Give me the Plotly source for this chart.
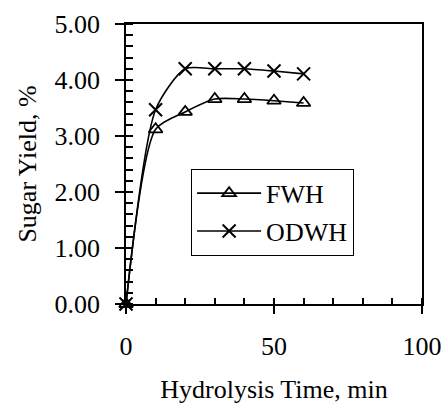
import plotly.graph_objects as go

time_min = [0, 10, 20, 30, 40, 50, 60]
fwh = [0.0, 3.12, 3.43, 3.66, 3.66, 3.63, 3.59]
odwh = [0.0, 3.47, 4.20, 4.20, 4.20, 4.16, 4.11]

FONT = "Liberation Serif"

fig = go.Figure()
fig.add_trace(go.Scatter(
    x=time_min, y=fwh, name="FWH", mode="lines+markers",
    line=dict(color="black", width=1.6, shape="spline", smoothing=0.7),
    marker=dict(symbol="triangle-up-open", size=12, color="black", line=dict(width=1.8, color="black")),
    cliponaxis=False, legendgroup="a"))
fig.add_trace(go.Scatter(
    x=time_min, y=odwh, name="ODWH", mode="lines+markers",
    line=dict(color="black", width=1.6, shape="spline", smoothing=0.7),
    marker=dict(symbol="x-thin-open", size=13, color="black", line=dict(width=2, color="black")),
    cliponaxis=False, legendgroup="b"))

fig.update_layout(
    width=443, height=404,
    margin=dict(l=126, r=21, t=24, b=100),
    paper_bgcolor="white", plot_bgcolor="white",
    font=dict(family=FONT, size=24, color="black"),
    showlegend=True,
    legend=dict(x=0.22, y=0.483, xanchor="left", yanchor="top",
                bgcolor="white", bordercolor="black", borderwidth=1,
                font=dict(family=FONT, size=26, color="black"),
                itemwidth=64, traceorder="grouped", tracegroupgap=1),
    xaxis=dict(range=[0, 100], tickmode="linear", tick0=0, dtick=50, automargin=False,
               tickfont=dict(family=FONT, size=26, color="black"),
               ticks="outside", ticklen=8, tickwidth=1.5, tickcolor="black",
               minor=dict(tickmode="linear", dtick=10, tick0=0, ticks="inside", ticklen=6,
                          tickwidth=1.5, tickcolor="black", showgrid=False),
               showline=True, linecolor="black", linewidth=1.5, mirror=True,
               showgrid=False, zeroline=False, ticklabelstandoff=10,
               title=dict(text="Hydrolysis Time, min", font=dict(family=FONT, size=26), standoff=30)),
    yaxis=dict(range=[0, 5], tickmode="linear", tick0=0, dtick=1, tickformat=".2f", automargin=False,
               tickfont=dict(family=FONT, size=26, color="black"),
               ticks="outside", ticklen=9, tickwidth=1.5, tickcolor="black",
               minor=dict(tickmode="linear", dtick=0.2, tick0=0, ticks="inside", ticklen=7,
                          tickwidth=1.5, tickcolor="black", showgrid=False),
               showline=True, linecolor="black", linewidth=1.5, mirror=True,
               showgrid=False, zeroline=False, ticklabelstandoff=10,
               title=dict(text="Sugar Yield, %", font=dict(family=FONT, size=26), standoff=10)),
)

fig.write_html("out.html")
